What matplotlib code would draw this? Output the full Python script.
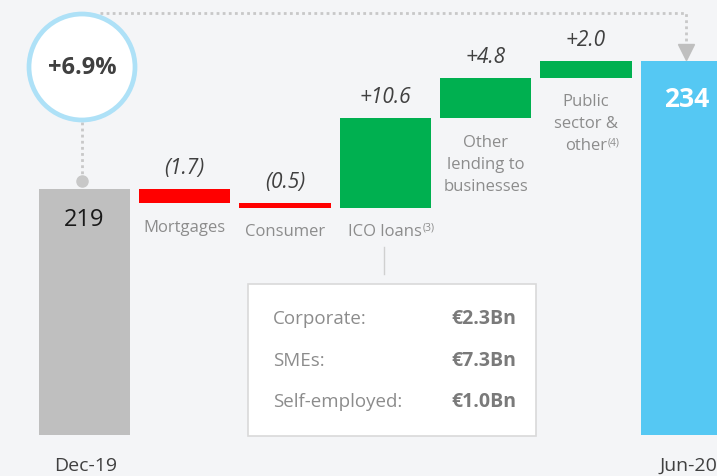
import matplotlib
matplotlib.use('Agg')
import matplotlib.pyplot as plt
from matplotlib.patches import Circle, Rectangle
from matplotlib.transforms import IdentityTransform

plt.rcParams['font.family'] = ['Open Sans', 'DejaVu Sans']

# data
categories = ['Dec-19', 'Mortgages', 'Consumer', 'ICO loans',
              'Other\nlending to\nbusinesses', 'Public\nsector &\nother', 'Jun-20']
footnotes = ['', '', '', '(3)', '', '(4)', '']
start_value = 219
changes = [-1.7, -0.5, 10.6, 4.8, 2.0]
change_labels = ['(1.7)', '(0.5)', '+10.6', '+4.8', '+2.0']
end_label = '234'
growth_label = '+6.9%'
ico_rows = ['Corporate:', 'SMEs:', 'Self-employed:']
ico_values = ['€2.3Bn', '€7.3Bn', '€1.0Bn']

base = 189.8
W, H = 717, 477
bg = '#f4f5f7'
gray_txt = '#8c8c8c'
dark_txt = '#404040'
cat_size = 12


def px(x, y):
    return x / W, 1 - y / H


fig = plt.figure(figsize=(W / 100, H / 100), dpi=100)
fig.patch.set_facecolor(bg)
ax = fig.add_axes([0, 0, 1, 1])
ax.set_facecolor(bg)
ax.axis('off')
ax.set_xlim(-0.842, 6.306)
ax.set_ylim(184.93, 241.58)

width = 0.91
end_value = start_value + sum(changes)

# totals
ax.bar(0, start_value - base, bottom=base, width=width, color='#bfbfbf')
ax.bar(6, end_value - base, bottom=base, width=width, color='#55c8f3')

# steps
level = start_value
last_lines = {}
for i, c in enumerate(changes):
    lo = min(level, level + c)
    ax.bar(i + 1, abs(c), bottom=lo, width=width,
           color='#ff0000' if c < 0 else '#00b050')
    top = max(level, level + c)
    ax.annotate(change_labels[i], (i + 1, top), xytext=(0, 15.5), textcoords='offset points',
                ha='center', va='center', fontsize=15, style='italic', color=dark_txt)
    for k, line in enumerate(categories[i + 1].split('\n')):
        t = ax.annotate(line, (i + 1, lo), xytext=(0, -11 - 15.8 * k),
                        textcoords='offset points', ha='center', va='top',
                        fontsize=cat_size, color=gray_txt)
    last_lines[i + 1] = t
    level += c

# footnote markers after the last line of the label
fig.canvas.draw()
r = fig.canvas.get_renderer()
for i, note in enumerate(footnotes):
    if not note:
        continue
    bb = last_lines[i].get_window_extent(r)
    ax.text(bb.x1 + 0.5, bb.y1 + 1, note, transform=IdentityTransform(),
            fontsize=7.5, color=gray_txt, ha='left', va='top')

# total labels
ax.text(0, start_value - 3.6, str(start_value), ha='center', va='center',
        fontsize=17, color='#1a1a1a')
ax.text(6, end_value - 4.4, end_label, ha='center', va='center',
        fontsize=19, color='white', fontweight='bold')
ax.text(*px(86, 466), categories[0], transform=ax.transAxes, ha='center', va='center',
        fontsize=14, color=dark_txt)
ax.text(*px(688, 466), categories[6], transform=ax.transAxes, ha='center', va='center',
        fontsize=14, color=dark_txt)

# growth circle and connector
line_c = '#c8c8c8'
ax.plot([px(82, 123)[0], px(82, 182)[0]], [px(82, 123)[1], px(82, 182)[1]],
        transform=ax.transAxes, color=line_c, lw=2, ls=(0, (1, 1.2)))
ax.plot(*px(82, 182), 'o', transform=ax.transAxes, color=line_c, ms=8)
xs = [100, 686, 686]
ys = [14, 14, 48]
ax.plot([x / W for x in xs], [1 - y / H for y in ys], transform=ax.transAxes,
        color=line_c, lw=2, ls=(0, (1, 1.2)))
ax.plot(*px(686, 53), 'v', transform=ax.transAxes, color='#bfbfbf', ms=11)

circ = Circle((82 / 100, (H - 68) / 100), 0.53, transform=fig.dpi_scale_trans,
              facecolor='white', edgecolor='#aee1f7', lw=3.4, zorder=5, clip_on=False)
ax.add_patch(circ)
ax.text(*px(82, 68), growth_label, transform=ax.transAxes, ha='center', va='center',
        fontsize=17, fontweight='bold', color=dark_txt, zorder=6)

# ICO breakdown box
ax.plot([px(384, 248)[0]] * 2, [px(384, 248)[1], px(384, 275)[1]],
        transform=ax.transAxes, color='#d0d0d0', lw=1)
x0, y0 = px(248, 437)
ax.add_patch(Rectangle((x0, y0), 288 / W, 152 / H, transform=ax.transAxes,
                       facecolor='white', edgecolor='#d9d9d9', lw=1.2))
for k, (name, val) in enumerate(zip(ico_rows, ico_values)):
    yy = 319 + k * 41.5
    ax.text(*px(273, yy), name, transform=ax.transAxes, ha='left', va='center',
            fontsize=13.5, color=gray_txt)
    ax.text(*px(451, yy), val, transform=ax.transAxes, ha='left', va='center',
            fontsize=14, color='#7a7a7a', fontweight='bold')

fig.savefig('out.png', dpi=100, facecolor=bg)
